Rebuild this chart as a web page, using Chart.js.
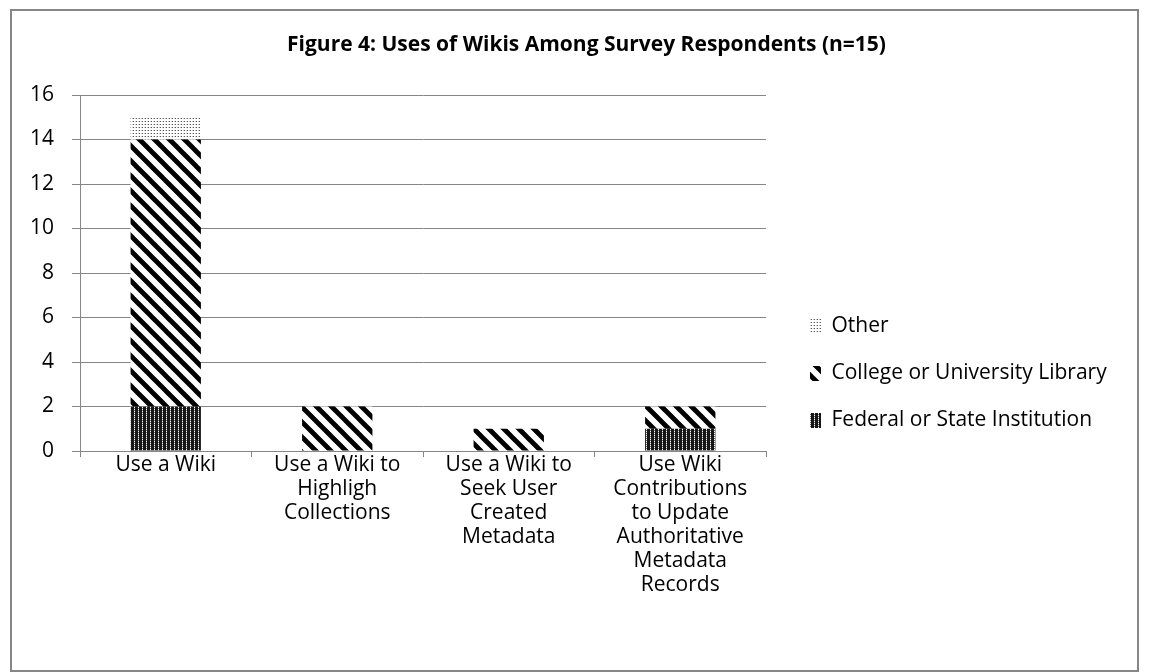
<!DOCTYPE html>
<html>
<head>
<meta charset="utf-8">
<script src="https://cdn.jsdelivr.net/npm/chart.js@4.4.0/dist/chart.umd.min.js"></script>
<style>
  html, body { margin: 0; padding: 0; background: #fff; }
  #wrap { position: relative; width: 1149px; height: 672px; }
</style>
</head>
<body>
<div id="wrap"><canvas id="wikis" width="1149" height="672"></canvas></div>
<script>
let categories = [
  ["Use a Wiki"],
  ["Use a Wiki to", "Highligh", "Collections"],
  ["Use a Wiki to", "Seek User", "Created", "Metadata"],
  ["Use Wiki", "Contributions", "to Update", "Authoritative", "Metadata", "Records"]
];
let federalState = [2, 0, 0, 1];
let collegeLib = [12, 2, 1, 1];
let otherInst = [1, 0, 0, 0];
let yTicks = [0, 2, 4, 6, 8, 10, 12, 14, 16];

const gray = '#868686';
const fontFam = "'Open Sans', 'Noto Sans', sans-serif";

// small tiles repeated as fill patterns
function makePattern(w, h, paint) {
  let c = document.createElement('canvas');
  c.width = w; c.height = h;
  let g = c.getContext('2d');
  paint(g, w, h);
  return g.createPattern(c, 'repeat');
}

let checkFill = makePattern(4, 4, (g) => {
  g.fillStyle = '#161616';
  g.fillRect(0, 0, 4, 4);
  g.fillStyle = '#6a6a6a';
  g.fillRect(2, 0, 1, 4);
  g.fillStyle = '#ffffff';
  g.fillRect(2, 1, 1, 1);
  g.fillRect(2, 3, 1, 1);
});

let stripeFill = makePattern(15, 15, (g, s) => {
  g.fillStyle = '#fff';
  g.fillRect(0, 0, s, s);
  g.strokeStyle = '#000';
  g.lineWidth = 4.8;
  for (let k = -1; k <= 1; k++) {
    g.beginPath();
    g.moveTo(-s, -s + k * s);
    g.lineTo(2 * s, 2 * s + k * s);
    g.stroke();
  }
});

let dotFill = makePattern(3, 3, (g) => {
  g.fillStyle = '#fff';
  g.fillRect(0, 0, 3, 3);
  g.fillStyle = '#555';
  g.fillRect(1, 1, 1, 1);
  g.fillStyle = '#c8c8c8';
  g.fillRect(0, 1, 1, 1);
});

const framePlugin = {
  id: 'frame',
  afterInit(chart) {
    // fixed legend column on the right
    const fit = chart.legend.fit;
    chart.legend.fit = function () {
      fit.call(this);
      this.width = 383;
    };
  },
  afterLayout(chart) {
    const lg = chart.legend;
    lg.left = 784;
    lg.top = 290;
    lg.bottom = 672;
  },
  beforeDraw(chart) {
    const ctx = chart.ctx;
    ctx.save();
    ctx.fillStyle = '#fff';
    ctx.fillRect(0, 0, chart.width, chart.height);
    ctx.strokeStyle = gray;
    ctx.lineWidth = 2;
    ctx.strokeRect(11, 10, 1127, 661);
    ctx.restore();
  }
};

new Chart(document.getElementById('wikis'), {
  type: 'bar',
  data: {
    labels: categories,
    datasets: [
      {
        label: 'Federal or State Institution',
        data: federalState,
        backgroundColor: checkFill,
        borderWidth: 0
      },
      {
        label: 'College or University Library',
        data: collegeLib,
        backgroundColor: stripeFill,
        borderWidth: 0
      },
      {
        label: 'Other',
        data: otherInst,
        backgroundColor: dotFill,
        borderWidth: 0
      }
    ]
  },
  options: {
    responsive: false,
    animation: false,
    devicePixelRatio: 1,
    layout: { padding: { left: 24, right: 0, top: 0, bottom: 0 } },
    datasets: {
      bar: { categoryPercentage: 1, barPercentage: 0.41 }
    },
    scales: {
      x: {
        stacked: true,
        afterFit: (s) => { s.height = 221; },
        grid: {
          display: true,
          offset: true,
          drawOnChartArea: false,
          drawTicks: true,
          tickLength: 6,
          color: gray
        },
        border: { color: gray, width: 1 },
        ticks: {
          color: '#000',
          padding: -4,
          maxRotation: 0,
          autoSkip: false,
          font: { family: fontFam, size: 21, lineHeight: '24px' }
        }
      },
      y: {
        stacked: true,
        min: 0,
        max: 16,
        afterFit: (s) => { s.width = 56; },
        afterBuildTicks: (s) => { s.ticks = yTicks.map(v => ({ value: v })); },
        grid: {
          color: gray,
          tickLength: 8
        },
        border: { color: gray, width: 1 },
        ticks: {
          color: '#000',
          padding: 18,
          font: { family: fontFam, size: 21, lineHeight: '24px' }
        }
      }
    },
    plugins: {
      title: {
        display: true,
        text: 'Figure 4: Uses of Wikis Among Survey Respondents (n=15)',
        color: '#000',
        font: { family: fontFam, size: 21, weight: 'bold', lineHeight: '24px' },
        padding: { top: 33, bottom: 38 }
      },
      legend: {
        position: 'right',
        align: 'start',
        reverse: true,
        labels: {
          color: '#000',
          boxWidth: 11,
          boxHeight: 15,
          padding: 26,
          font: { family: fontFam, size: 21 }
        }
      },
      tooltip: { enabled: false }
    }
  },
  plugins: [framePlugin]
});
</script>
</body>
</html>
